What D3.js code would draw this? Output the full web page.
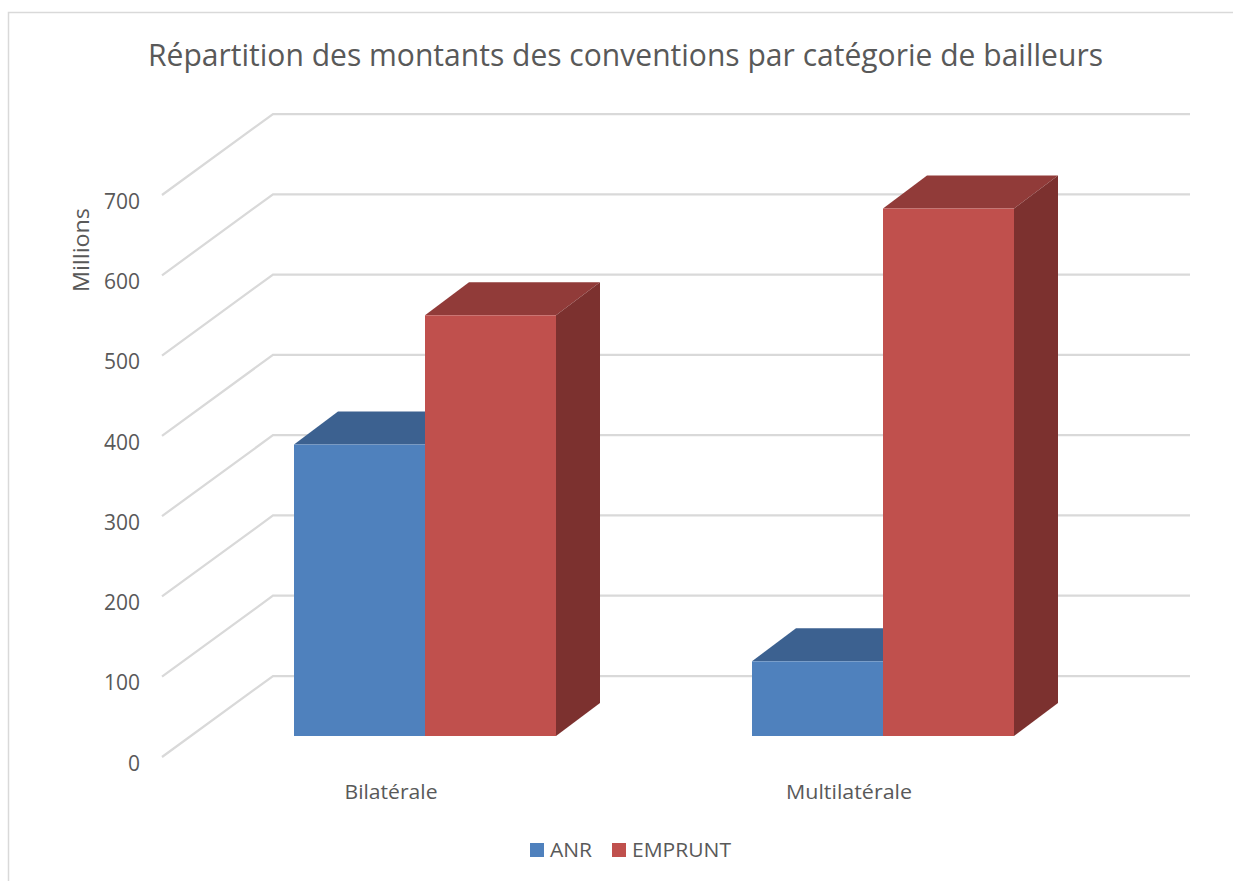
<!DOCTYPE html>
<html>
<head>
<meta charset="utf-8">
<script src="https://cdn.jsdelivr.net/npm/d3@7"></script>
<style>
  html, body { margin: 0; padding: 0; background: #fff; overflow: hidden; }
  text { font-family: "Open Sans", "Noto Sans", sans-serif; fill: #595959; }
</style>
</head>
<body>
<div id="chart"></div>
<script>
// Values (same unit as the axis, in millions)
const categories = ['Bilatérale', 'Multilatérale'];
const seriesNames = ['ANR', 'EMPRUNT'];
const anrValues = [363, 93];
const empruntValues = [524, 657];
const yTicks = [0, 100, 200, 300, 400, 500, 600, 700];

const seriesValues = { ANR: anrValues, EMPRUNT: empruntValues };
const seriesColors = {
    ANR: { front: '#4f81bd', top: '#3c6190', side: '#325177' },
    EMPRUNT: { front: '#c0504d', top: '#913b39', side: '#7c312f' }
};

const svg = d3.select('#chart').append('svg')
    .attr('width', 1233)
    .attr('height', 881)
    .style('display', 'block');

// Chart frame, open on the right and bottom of the crop
svg.append('path')
    .attr('d', 'M8.5,881V12.5H1233')
    .attr('fill', 'none')
    .attr('stroke', '#d9d9d9')
    .attr('stroke-width', 1.5);

// Oblique projection: back wall, floor edge and the plane of the bars
const wallLeft = 273, wallRight = 1190, wallBase = 676;
const floorDx = -111, floorDy = 81;
const barBase = 736, barDx = 44, barDy = -33;

const heightScale = d3.scaleLinear().domain([0, 700]).range([0, 562]);
const yWall = d3.scaleLinear().domain([0, 700]).range([wallBase, wallBase - 562]);
const yFront = d3.scaleLinear().domain([0, 700]).range([wallBase + floorDy, wallBase + floorDy - 562]);

const x0 = d3.scaleBand().domain(categories).range([196, 1112]);
const x1 = d3.scaleBand().domain(seriesNames).range([98, 360]);

// Gridlines: along the wall, then down the side
svg.append('g').selectAll('path')
    .data(yTicks)
    .enter().append('path')
    .attr('d', d => `M${wallRight},${yWall(d)}H${wallLeft}l${floorDx},${floorDy}`)
    .attr('fill', 'none')
    .attr('stroke', '#d9d9d9')
    .attr('stroke-width', 2.25);

// Value axis labels sit on the front edge
const yAxis = svg.append('g')
    .attr('transform', 'translate(147,6.5)')
    .call(d3.axisLeft(yFront).tickValues(yTicks).tickSize(0).tickPadding(7));
yAxis.select('.domain').remove();
yAxis.selectAll('text')
    .style('font-family', '"Open Sans", sans-serif')
    .style('font-size', '21px')
    .attr('fill', '#595959');

// Bars, one series after the other so that red covers the blue side face
const bars = seriesNames.flatMap(s => categories.map((c, i) => ({
    series: s,
    category: c,
    value: seriesValues[s][i]
})));

const barGroups = svg.append('g').selectAll('g')
    .data(bars)
    .enter().append('g')
    .attr('transform', d => `translate(${x0(d.category) + x1(d.series)},${barBase - heightScale(d.value)})`);

barGroups.append('path')
    .attr('d', `M0,0l${barDx},${barDy}h${x1.bandwidth()}l${-barDx},${-barDy}Z`)
    .attr('fill', d => seriesColors[d.series].top);

barGroups.append('path')
    .attr('d', d => `M${x1.bandwidth()},0l${barDx},${barDy}v${heightScale(d.value)}l${-barDx},${-barDy}Z`)
    .attr('fill', d => seriesColors[d.series].side);

barGroups.append('rect')
    .attr('width', x1.bandwidth())
    .attr('height', d => heightScale(d.value))
    .attr('fill', d => seriesColors[d.series].front);

// Category labels
svg.append('g').selectAll('text')
    .data(categories)
    .enter().append('text')
    .attr('x', d => x0(d) + x0.bandwidth() / 2 - 34)
    .attr('y', 799)
    .attr('text-anchor', 'middle')
    .attr('font-size', 20)
    .attr('textLength', d => d === 'Bilatérale' ? 93 : 126)
    .attr('lengthAdjust', 'spacingAndGlyphs')
    .text(d => d);

// Title
svg.append('text')
    .attr('x', 148)
    .attr('y', 66)
    .attr('font-size', 31)
    .attr('textLength', 955)
    .attr('lengthAdjust', 'spacingAndGlyphs')
    .text('Répartition des montants des conventions par catégorie de bailleurs');

// Axis title
svg.append('text')
    .attr('transform', 'translate(89,250) rotate(-90)')
    .attr('text-anchor', 'middle')
    .attr('font-size', 21)
    .attr('textLength', 84)
    .attr('lengthAdjust', 'spacingAndGlyphs')
    .text('Millions');

// Legend
const legendX = { ANR: 530, EMPRUNT: 612 };
const legendWidth = { ANR: 42, EMPRUNT: 99 };
const legend = svg.append('g').selectAll('g')
    .data(seriesNames)
    .enter().append('g')
    .attr('transform', d => `translate(${legendX[d]},843)`);

legend.append('rect')
    .attr('width', 14)
    .attr('height', 14)
    .attr('fill', d => seriesColors[d].front);

legend.append('text')
    .attr('x', 20)
    .attr('y', 14)
    .attr('font-size', 20)
    .attr('textLength', d => legendWidth[d])
    .attr('lengthAdjust', 'spacingAndGlyphs')
    .text(d => d);
</script>
</body>
</html>
